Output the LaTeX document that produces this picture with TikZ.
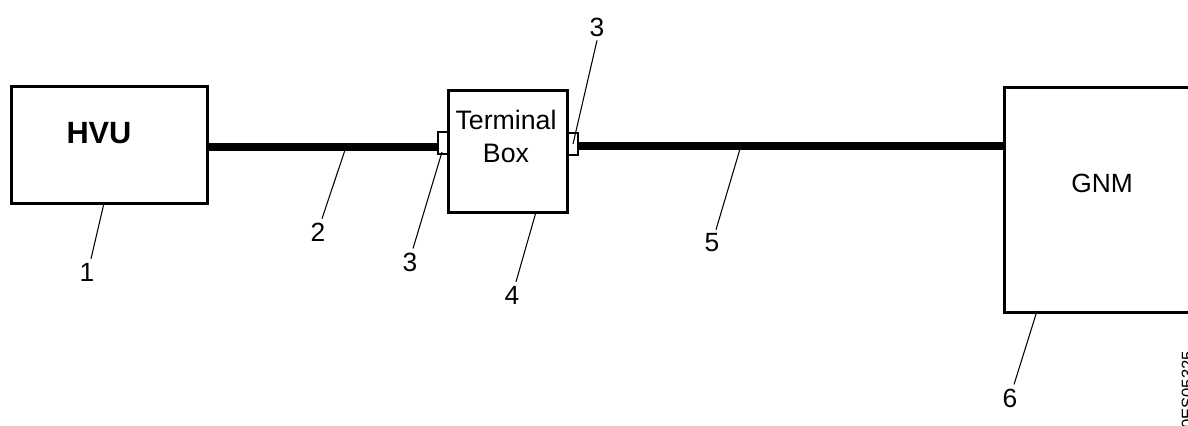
\documentclass[tikz,border=0pt]{standalone}
\usepackage{fontspec}
\setmainfont{Liberation Sans}
\usetikzlibrary{positioning}

\tikzset{
  unit/.style={draw, line width=1.6pt, inner sep=0pt},
  plug/.style={draw, line width=1.1pt, fill=white, inner sep=0pt, minimum width=6pt, minimum height=12pt},
  cable/.style={line width=4pt},
  leader/.style={line width=0.6pt},
  callout/.style={font=\fontsize{15}{17}\selectfont, inner sep=1pt}
}

\begin{document}
\begin{tikzpicture}[x=0.02cm, y=-0.02cm]
\useasboundingbox (0,0) rectangle (1188,426);

% units
\node[unit, minimum width=196*0.02cm, minimum height=117*0.02cm, anchor=north west] (hvu) at (10,85) {};
\node[font=\bfseries\fontsize{17.5}{20}\selectfont] at (99,133) {HVU};

\node[unit, minimum width=119*0.02cm, minimum height=122*0.02cm, anchor=north west] (tbox) at (447,89) {};
\node[font=\fontsize{15.2}{19}\selectfont, align=center, anchor=north] at (506,104) {Terminal\\Box};

\node[unit, minimum width=250*0.02cm, minimum height=225*0.02cm, anchor=north west] (gnm) at (1003,86) {};
\node[font=\fontsize{15}{17}\selectfont] at (1102,183) {GNM};

% plugs
\node[plug] (pl) at (443,143) {};
\node[plug] (pr) at (573,144) {};

% cables
\draw[cable] (hvu.east |- 0,147) -- (pl.west |- 0,147);
\draw[cable] (pr.east |- 0,146) -- (gnm.west |- 0,146);

% callouts
\node[callout] (n1) at (87,272) {1};
\node[callout] (n2) at (318,232) {2};
\node[callout] (n3a) at (410,262) {3};
\node[callout] (n4) at (512,295) {4};
\node[callout] (n3b) at (597,27) {3};
\node[callout] (n5) at (712,243) {5};
\node[callout] (n6) at (1010,398) {6};

\coordinate (c1) at (104,203);
\coordinate (c2) at (345,150);
\coordinate (c3a) at (442,152);
\coordinate (c4) at (536,212);
\coordinate (c3b) at (573,144);
\coordinate (c5) at (740,149);
\coordinate (c6) at (1037,311);

\draw[leader] (n1.north) ++(4,-2) -- (c1);
\draw[leader] (n2.north) ++(4,-2) -- (c2);
\draw[leader] (n3a.north) ++(3,-2) -- (c3a);
\draw[leader] (n4.north) ++(4,-2) -- (c4);
\draw[leader] (n3b.south) ++(0,2) -- (c3b);
\draw[leader] (n5.north) ++(4,-2) -- (c5);
\draw[leader] (n6.north) ++(4,-2) -- (c6);

\node[rotate=90, font=\fontsize{9.5}{10}\selectfont, inner sep=0pt] (ref) at (1187.5,390) {0ES05325};
\end{tikzpicture}
\end{document}
